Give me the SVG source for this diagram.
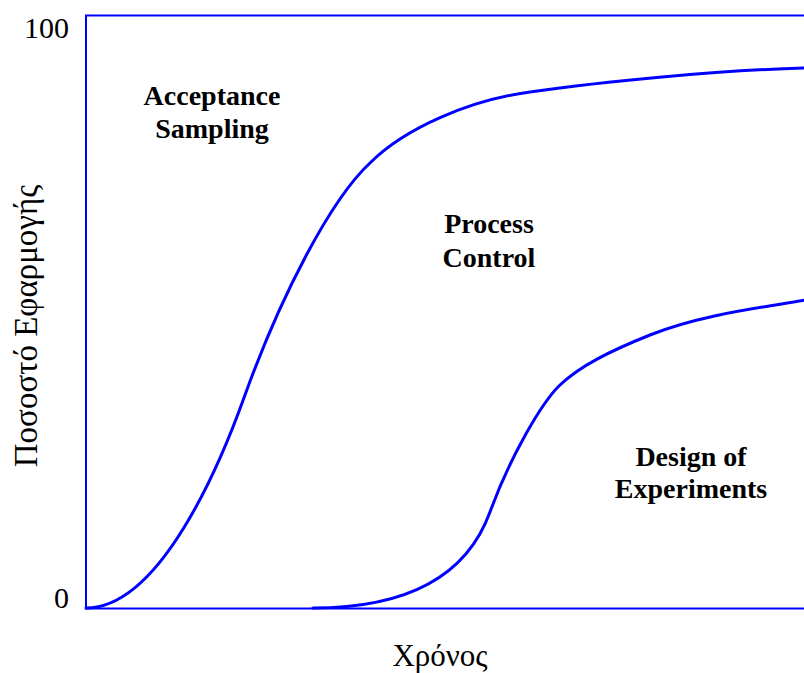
<svg xmlns="http://www.w3.org/2000/svg" width="804" height="673" viewBox="0 0 804 673">
  <style>
    .frame { fill: none; stroke: #0000ff; stroke-width: 2; }
    .curve { fill: none; stroke: #0000ff; stroke-width: 3; stroke-linecap: round; }
    .axis { font-family: "Liberation Serif", "Times New Roman", serif; font-size: 30px; fill: #000; }
    .region { font-family: "Liberation Serif", "Times New Roman", serif; font-size: 28px; font-weight: bold; fill: #000; text-anchor: middle; }
  </style>
  <rect width="804" height="673" fill="#fff"/>

  <!-- plot frame -->
  <g id="frame">
    <rect class="frame" x="86" y="15.5" width="740" height="593"/>
  </g>

  <!-- axis labels -->
  <g id="axes">
    <text class="axis" x="69" y="38" text-anchor="end">100</text>
    <text class="axis" x="69" y="608" text-anchor="end">0</text>
    <text class="axis" x="440" y="666" text-anchor="middle" style="font-size:31px">Χρόνος</text>
    <text class="axis" transform="translate(37,326) rotate(-90)" text-anchor="middle" style="font-size:33px">Ποσοστό Εφαρμογής</text>
  </g>

  <!-- adoption curves -->
  <g id="connectors">
    <path class="curve" d="M86,608 C160,608 220,465 245,395 C280,298 330,200 370,163 C405,128 470,100 530,92 C600,82 720,70 806,68"/>
    <path class="curve" d="M313,608 C420,608 470,567 490,512 C510,457 542,402 560,385 C580,366 610,351 650,335 C700,315 756,308.5 806,300"/>
  </g>

  <!-- region labels -->
  <g id="acceptance-sampling">
    <text class="region" x="212" y="105">Acceptance</text>
    <text class="region" x="212" y="138">Sampling</text>
  </g>
  <g id="process-control">
    <text class="region" x="489" y="233">Process</text>
    <text class="region" x="489" y="267">Control</text>
  </g>
  <g id="design-of-experiments">
    <text class="region" x="691" y="466">Design of</text>
    <text class="region" x="691" y="498">Experiments</text>
  </g>
</svg>
